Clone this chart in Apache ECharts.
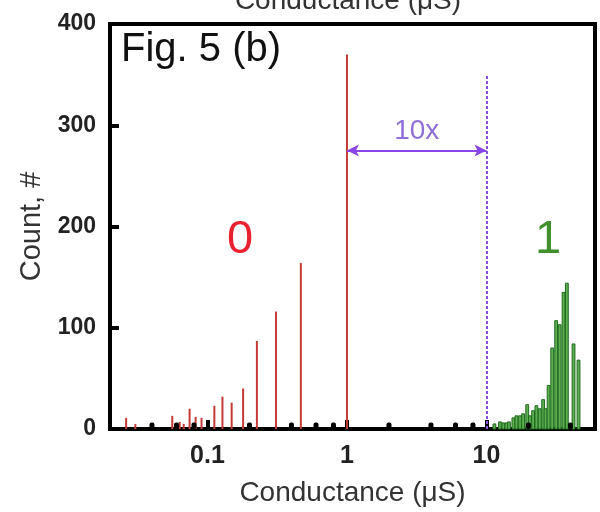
<!DOCTYPE html>
<html>
<head>
<meta charset="utf-8">
<script src="https://cdn.jsdelivr.net/npm/echarts@6/dist/echarts.min.js"></script>
<style>
html,body{margin:0;padding:0;background:#fff;}
#c{width:600px;height:512px;}
</style>
</head>
<body>
<div id="c"></div>
<script>
// ---- data ----
const redConductance = [0.0261,0.0304,0.0559,0.0632,0.0675,0.0744,0.0822,0.0906,0.112,0.128,0.149,0.180,0.226,0.310,0.467,1.0];
const redCount       = [11,5,13,7,5,20,12,11,23,32,26,40,87,116,164,370];
const greenConductance = [11.4,12.5,13.2,13.9,14.5,15.6,16.4,17.4,18.3,19.6,20.5,21.6,22.8,24.1,25.5,26.5,27.9,29.6,31.6,33.5,35.7,37.7,42.1,45.7];
const greenCount       = [5,7,6,6,7,11,13,13,15,24,13,18,23,20,29,20,43,80,107,103,135,144,84,68];
const xMinorTicks = [0.04,0.06,0.08,0.2,0.4,0.6,0.8,2,4,6,8,20,40];
const yTicks = [0,100,200,300,400];
const ratioFrom = 1, ratioTo = 10;   // the "10x" arrow
const arrowLevel = 275;              // count level of the arrow
const dottedTop = 350;               // top of the dotted line at 10 uS

const FONT = '"Liberation Sans", Arial, sans-serif';
const chart = echarts.init(document.getElementById('c'), null, {renderer:'canvas'});

function zip(a,b){ return a.map((v,i)=>[v,b[i]]); }

const option = {
  animation:false,
  backgroundColor:'#fff',
  grid:{left:110,right:5,top:24,bottom:77,show:true,borderColor:'#000',borderWidth:4,backgroundColor:'transparent'},
  xAxis:{
    type:'log', logBase:10, min:0.02, max:60,
    axisLine:{show:true,lineStyle:{color:'#000',width:4}},
    axisTick:{show:true,inside:true,length:9,lineStyle:{color:'#000',width:4}},
    axisLabel:{showMinLabel:false,showMaxLabel:false,fontSize:25,fontWeight:'bold',color:'#222',margin:15,fontFamily:FONT},
    splitLine:{show:false},
    name:'Conductance (\u03bcS)', nameLocation:'middle', nameGap:50,
    nameTextStyle:{fontSize:28,color:'#333',fontFamily:FONT}
  },
  yAxis:{
    type:'value', min:yTicks[0], max:yTicks[yTicks.length-1], interval:100,
    axisLine:{show:true,lineStyle:{color:'#000',width:4}},
    axisTick:{show:true,inside:true,length:9,lineStyle:{color:'#000',width:4}},
    axisLabel:{fontSize:23,fontWeight:'bold',color:'#222',margin:14,fontFamily:FONT},
    splitLine:{show:false},
    name:'Count, #', nameLocation:'middle', nameGap:60, nameRotate:90,
    nameTextStyle:{fontSize:29,color:'#333',fontFamily:FONT}
  },
  series:[
    {
      name:'state0', type:'custom', z:3,
      data: zip(redConductance, redCount),
      encode:{x:0,y:1},
      renderItem:function(params, api){
        const p0 = api.coord([api.value(0),0]);
        const p1 = api.coord([api.value(0),api.value(1)]);
        return {type:'line', shape:{x1:p0[0],y1:p0[1],x2:p1[0],y2:p1[1]}, style:{stroke:'#c43b36',lineWidth:2}};
      }
    },
    {
      name:'state1', type:'custom', z:3,
      data: zip(greenConductance, greenCount),
      encode:{x:0,y:1},
      renderItem:function(params, api){
        const p0 = api.coord([api.value(0),0]);
        const p1 = api.coord([api.value(0),api.value(1)]);
        const w = 2.8;
        return {type:'rect', shape:{x:p0[0]-w/2,y:p1[1],width:w,height:p0[1]-p1[1]}, style:{fill:'#5cae4f',stroke:'#1f6b1f',lineWidth:1}};
      }
    },
    {
      name:'minorTicks', type:'custom', z:4, silent:true,
      data: xMinorTicks.map(v=>[v,0]),
      encode:{x:0,y:1},
      renderItem:function(params, api){
        const p = api.coord([api.value(0),0]);
        return {type:'rect', shape:{x:p[0]-2.5,y:p[1]-6.5,width:5,height:6.5,r:2}, style:{fill:'#000'}};
      }
    },
    {
      name:'annot', type:'line', data:[], silent:true,
      markLine:{
        silent:true, animation:false,
        data:[
          [{coord:[ratioTo,0],symbol:'none',lineStyle:{color:'#8a4fe0',width:2,type:[3,2]},label:{show:false}},
           {coord:[ratioTo,dottedTop],symbol:'none'}],
          [{coord:[ratioFrom,arrowLevel],symbol:'arrow',symbolSize:[9,12],lineStyle:{color:'#8a45e6',width:2,type:'solid'},
            label:{show:true,formatter:'10x',position:'middle',distance:5,color:'#8e6fd8',fontSize:28,fontFamily:FONT}},
           {coord:[ratioTo,arrowLevel],symbol:'arrow',symbolSize:[9,12]}]
        ]
      }
    }
  ],
  graphic:[
    {type:'text', left:121, top:30, style:{text:'Fig. 5 (b)', fontSize:40, fill:'#111', fontFamily:FONT}},
    {type:'text', x:240, y:240, style:{text:'0', fontSize:47, fill:'#e8222e', fontFamily:FONT, align:'center', verticalAlign:'middle'}},
    {type:'text', x:548, y:240, style:{text:'1', fontSize:47, fill:'#3f8f2a', fontFamily:FONT, align:'center', verticalAlign:'middle'}},
    {type:'text', x:348, y:1, style:{text:'Conductance (\u03bcS)', fontSize:28, fill:'#333', fontFamily:FONT, align:'center', verticalAlign:'middle'}}
  ]
};
chart.setOption(option);
</script>
</body>
</html>
